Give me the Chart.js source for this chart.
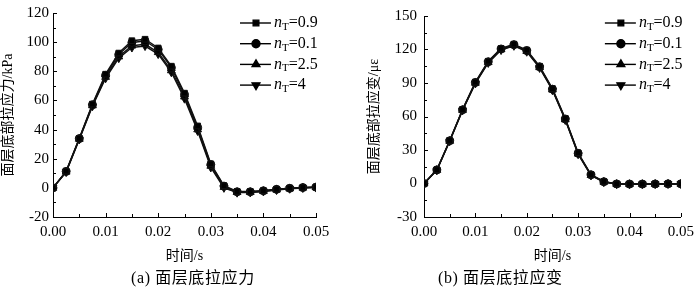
<!DOCTYPE html>
<html>
<head>
<meta charset="utf-8">
<script src="https://cdn.jsdelivr.net/npm/chart.js@4/dist/chart.umd.min.js"></script>
<style>
  body { margin: 0; background: #fff; }
  #wrap { position: relative; width: 700px; height: 288px; overflow: hidden; }
  .panel { position: absolute; top: 0; width: 350px; height: 288px; }
  .cap { position: absolute; top: 269px; height: 18px; line-height: 18px; font-size: 16px; font-family: "Liberation Serif", "Noto Sans CJK SC", serif; letter-spacing: 0.6px; color: #000; white-space: nowrap; }
</style>
</head>
<body>
<div id="wrap">
  <div class="panel" style="left:0"><canvas id="stressChart" width="350" height="288"></canvas></div>
  <div class="panel" style="left:350px"><canvas id="strainChart" width="350" height="288"></canvas></div>
  <div class="cap" style="left:131px">(a) 面层底拉应力</div>
  <div class="cap" style="left:438px">(b) 面层底拉应变</div>
</div>
<script>
// 时间 (s)
const times = [0, 0.0025, 0.005, 0.0075, 0.01, 0.0125, 0.015, 0.0175, 0.02, 0.0225, 0.025,
               0.0275, 0.03, 0.0325, 0.035, 0.0375, 0.04, 0.0425, 0.045, 0.0475, 0.05];
const seriesNames = ['0.9', '0.1', '2.5', '4'];
const markers = ['rect', 'circle', 'triangle', 'triangle'];
const markerRot = [0, 0, 0, 180];

// 面层底部拉应力 kPa
const stress09 = [0, 11.5, 34, 57.5, 78, 92.5, 101, 102, 96, 83.5, 65, 42.5, 16.5, 1.5, -2.5, -2.5, -2, -1, -0.2, 0.3, 0.6];
const stress01 = [0, 11.3, 33.8, 57, 77.2, 91.5, 99.8, 100.8, 95, 82.5, 64, 41.5, 16, 1.2, -2.7, -2.7, -2, -1, -0.3, 0.2, 0.5];
const stress25 = [0, 11, 33.5, 56.5, 76, 90, 97.5, 98.5, 93, 80.5, 62.5, 40, 15, 0.5, -3, -3, -2.3, -1.3, -0.5, 0, 0.3];
const stress4  = [0, 10.8, 33.2, 56, 75.2, 89, 96.3, 97.3, 91.8, 79.3, 61.2, 39, 14, 0, -3.3, -3.2, -2.5, -1.5, -0.6, -0.1, 0.2];

// 面层底部拉应变 με
const strain09 = [0, 12.3, 38.5, 66.2, 90.8, 109.5, 121, 124.8, 119.5, 105, 85, 58.3, 27.5, 8, 1.8, -0.3, -0.5, -0.5, -0.4, -0.3, -0.3];
const strain01 = [0, 12.2, 38.3, 66, 90.5, 109, 120.5, 124.3, 119, 104.5, 84.5, 57.8, 27, 7.8, 1.6, -0.4, -0.5, -0.5, -0.4, -0.3, -0.3];
const strain25 = [0, 12, 38, 65.7, 90, 108.5, 120, 123.8, 118.5, 104, 84, 57.3, 26.6, 7.5, 1.4, -0.5, -0.6, -0.6, -0.5, -0.4, -0.4];
const strain4  = [0, 11.8, 37.8, 65.4, 89.6, 108, 119.5, 123.3, 118, 103.5, 83.5, 56.8, 26.2, 7.2, 1.2, -0.6, -0.7, -0.6, -0.5, -0.4, -0.4];

const xTickLabels = ['0.00', '0.01', '0.02', '0.03', '0.04', '0.05'];
const stressTicks = [-20, 0, 20, 40, 60, 80, 100, 120];
const strainTicks = [-30, 0, 30, 60, 90, 120, 150];

const serif = '"Liberation Serif", "Times New Roman", serif';
const cjk = '"Liberation Serif", "Noto Sans CJK SC", serif';

// 刻度线朝内 (主刻度 + 次刻度)
const innerTicks = {
    id: 'innerTicks',
    afterDraw(chart) {
        const ctx = chart.ctx;
        const area = chart.chartArea;
        ctx.save();
        ctx.strokeStyle = '#000';
        ctx.lineWidth = 1;
        ['x', 'y'].forEach(id => {
            const sc = chart.scales[id];
            sc.ticks.forEach(t => {
                const len = t.label ? 4 : 3;
                const p = Math.round(sc.getPixelForValue(t.value)) + 0.5;
                ctx.beginPath();
                if (id === 'x') {
                    ctx.moveTo(p, area.bottom);
                    ctx.lineTo(p, area.bottom - len);
                } else {
                    ctx.moveTo(area.left, p);
                    ctx.lineTo(area.left + len, p);
                }
                ctx.stroke();
            });
        });
        ctx.restore();
    }
};

// 图例 (右上角, 图内)
const cornerLegend = {
    id: 'cornerLegend',
    afterDraw(chart) {
        const ctx = chart.ctx;
        const x0 = chart.chartArea.right - 76;
        ctx.save();
        chart.data.datasets.forEach((ds, i) => {
            const y = 23 + i * 20.7;
            ctx.strokeStyle = '#000';
            ctx.fillStyle = '#000';
            ctx.lineWidth = 1.4;
            ctx.beginPath();
            ctx.moveTo(x0, y);
            ctx.lineTo(x0 + 31, y);
            ctx.stroke();
            if (Chart.helpers && Chart.helpers.drawPoint) {
                Chart.helpers.drawPoint(ctx, {
                    pointStyle: ds.pointStyle, rotation: ds.pointRotation || 0,
                    radius: ds.pointRadius, borderWidth: 1
                }, x0 + 16, y);
            } else {
                ctx.fillRect(x0 + 13, y - 3, 6, 6);
            }
            let x = x0 + 34;
            ctx.textBaseline = 'middle';
            ctx.textAlign = 'left';
            ctx.font = 'italic 16px ' + serif;
            ctx.fillText('n', x, y);
            x += ctx.measureText('n').width;
            ctx.font = '11px ' + serif;
            ctx.fillText('T', x, y + 4);
            x += ctx.measureText('T').width;
            ctx.font = '16px ' + serif;
            ctx.fillText('=' + seriesNames[i], x, y);
        });
        ctx.restore();
    }
};

function makeDatasets(list) {
    return list.map((vals, i) => ({
        label: 'nT=' + seriesNames[i],
        data: times.map((t, k) => ({ x: t, y: vals[k] })),
        borderColor: '#111',
        backgroundColor: '#000',
        borderWidth: 1.4,
        pointStyle: markers[i],
        pointRotation: markerRot[i],
        pointRadius: markers[i] === 'triangle' ? 4.5 : 4,
        pointBorderWidth: 1,
        tension: 0
    }));
}

function renderChart(canvasId, list, yMin, yMax, step, majors, yTitle, opts) {
    const ctx = document.getElementById(canvasId).getContext('2d');
    new Chart(ctx, {
        type: 'line',
        data: { datasets: makeDatasets(list) },
        options: {
            responsive: false,
            animation: false,
            layout: { padding: { top: 6, right: opts.right, bottom: 22, left: 0 } },
            plugins: { legend: { display: false }, tooltip: { enabled: false } },
            scales: {
                x: {
                    type: 'linear', min: 0, max: 0.05,
                    afterFit: s => { s.height = 49; },
                    border: { color: '#000', width: 1 },
                    grid: { drawOnChartArea: false, drawTicks: false },
                    ticks: {
                        stepSize: 0.005, autoSkip: false, maxRotation: 0, padding: 6,
                        color: '#000', font: { family: serif, size: 15 },
                        callback: v => {
                            const lab = v.toFixed(2);
                            return xTickLabels.includes(lab) && Math.abs(v * 100 - Math.round(v * 100)) < 1e-6 ? lab : '';
                        }
                    },
                    title: { display: true, text: '时间/s', color: '#000', font: { family: cjk, size: 14 }, padding: { top: 0, bottom: 1 } }
                },
                y: {
                    min: yMin, max: yMax,
                    afterFit: s => { s.width = opts.yWidth; },
                    border: { color: '#000', width: 1 },
                    grid: { drawOnChartArea: false, drawTicks: false },
                    ticks: {
                        stepSize: step, autoSkip: false, padding: opts.tickPad,
                        color: '#000', font: { family: serif, size: 15 },
                        callback: v => majors.includes(v) ? String(v) : ''
                    },
                    title: { display: true, text: yTitle, color: '#000', font: { family: cjk, size: 14 }, padding: { top: opts.titlePad, bottom: 0 } }
                }
            }
        },
        plugins: [innerTicks, cornerLegend]
    });
}

window.onload = () => {
    renderChart('stressChart', [stress09, stress01, stress25, stress4], -20, 120, 10, stressTicks,
        '面层底部拉应力/kPa', { right: 34, yWidth: 53, tickPad: 4, titlePad: 0 });
    renderChart('strainChart', [strain09, strain01, strain25, strain4], -30, 150, 15, strainTicks,
        '面层底部拉应变/με', { right: 17, yWidth: 74, tickPad: 7, titlePad: 16 });
};
</script>
</body>
</html>
